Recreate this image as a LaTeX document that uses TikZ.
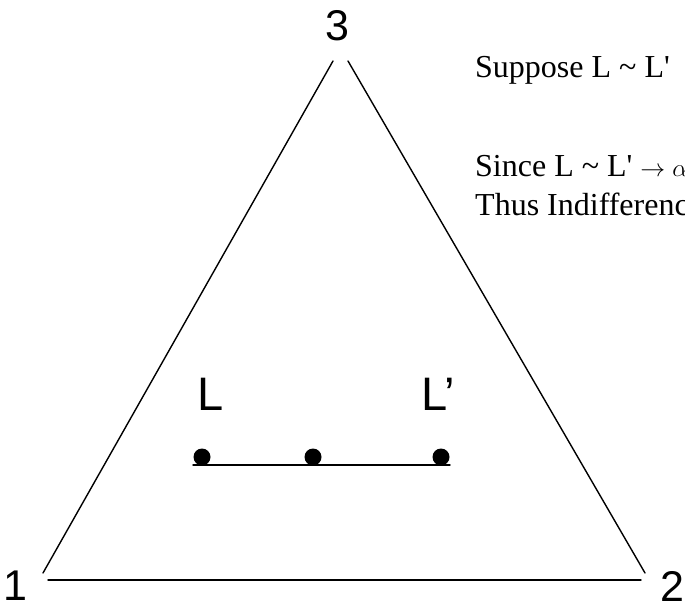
\documentclass[tikz,border=0pt]{standalone}
\usepackage{fontspec}
\setmainfont{Liberation Serif}[Ligatures=TeXOff]
\newfontfamily\arialfont{Liberation Sans}
\begin{document}
\begin{tikzpicture}[x=1pt,y=-1pt,
  edge/.style={line width=1.4pt,line cap=round},
  vlabel/.style={font=\arialfont\fontsize{43}{48}\selectfont,inner sep=0pt},
  plabel/.style={font=\arialfont\fontsize{47}{52}\selectfont,inner sep=0pt,anchor=base west},
  note/.style={font=\fontsize{32}{38}\selectfont,inner sep=0pt,anchor=base west},
  dot/.style={circle,fill=black,inner sep=0pt,minimum size=17pt}]
\useasboundingbox (0,0) rectangle (685,609);
% triangle end points
\coordinate (bl) at (43,573);
\coordinate (tl) at (333,61);
\coordinate (tr) at (348,61);
\coordinate (br) at (645,573);
\coordinate (b1) at (48,580);
\coordinate (b2) at (641,580);
\draw[edge] (bl) -- (tl);
\draw[edge] (tr) -- (br);
\draw[edge] (b1) -- (b2);
% vertex labels
\node[vlabel] (v3) at (337,26) {3};
\node[vlabel] (v1) at (15,586) {1};
\node[vlabel] (v2) at (672,586) {2};
% lotteries
\coordinate (s1) at (193,465);
\coordinate (s2) at (450,465);
\draw[edge] (s1) -- (s2);
\node[dot] (pL) at (202,457) {};
\node[dot] (pM) at (313,457) {};
\node[dot] (pR) at (441,457) {};
\node[plabel] (lL) at (197,410) {L};
\node[plabel] (lR) at (421,410) {L’};
% notes
\node[note] (t1) at (475,78) {Suppose L \textasciitilde{} L'};
\node[note] (t2) at (475,177) {Since L \textasciitilde{} L' $\rightarrow \alpha$};
\node[note] (t3) at (475,216) {Thus Indifference};
\end{tikzpicture}
\end{document}
